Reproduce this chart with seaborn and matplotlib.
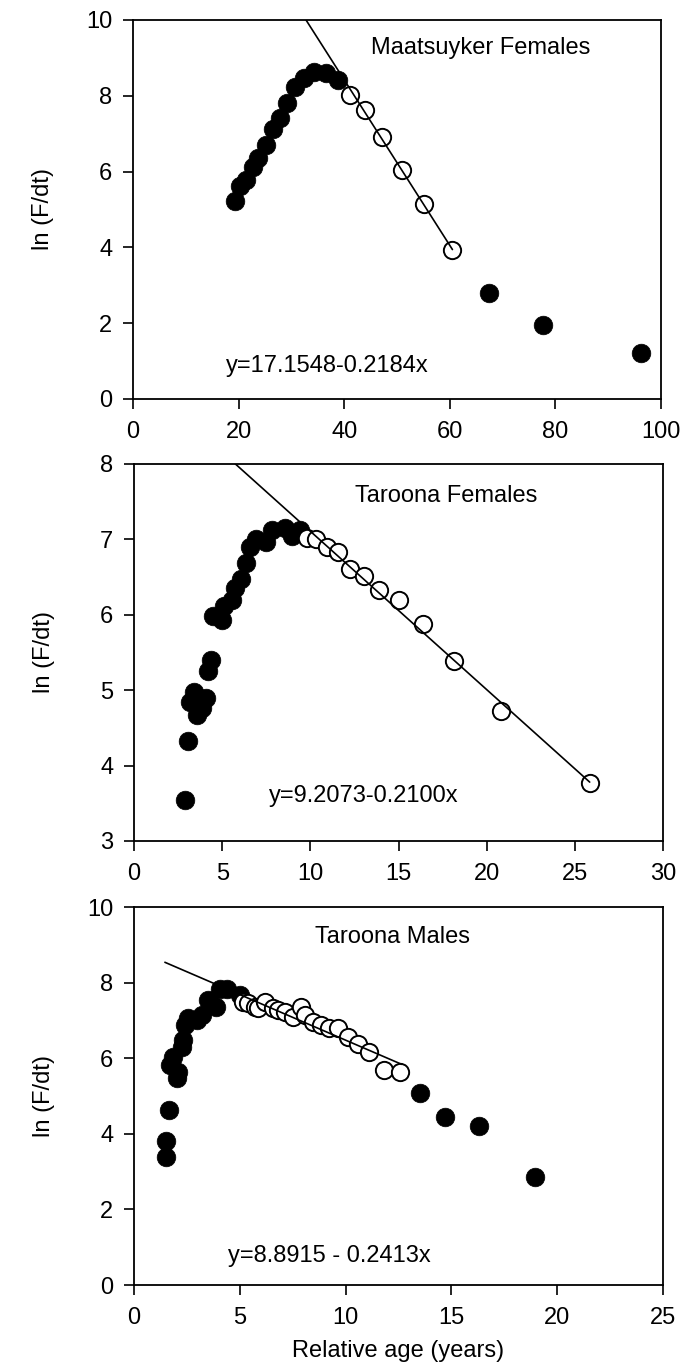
import matplotlib
matplotlib.use("Agg")
import matplotlib.pyplot as plt
import pandas as pd
import seaborn as sns

# ---------------------------------------------------------------
# data
# ---------------------------------------------------------------
# Maatsuyker females
maat_fill_x = [19.4, 20.3, 21.4, 22.7, 23.7, 25.1, 26.5, 27.8, 29.2, 30.7,
               32.4, 34.3, 36.6, 38.8, 67.5, 77.6, 96.2]
maat_fill_y = [5.23, 5.62, 5.78, 6.13, 6.35, 6.71, 7.12, 7.41, 7.82, 8.23,
               8.47, 8.62, 8.60, 8.42, 2.80, 1.95, 1.22]
maat_open_x = [41.1, 44.0, 47.2, 50.9, 55.1, 60.5]
maat_open_y = [8.03, 7.63, 6.91, 6.03, 5.15, 3.93]
maat_coef = [17.1548, -0.2184]
maat_fit_x = [32.76, 60.5]

# Taroona females
tfem_fill_x = [2.89, 3.05, 3.18, 3.42, 3.56, 3.84, 4.09, 4.22, 4.35, 4.50,
               4.97, 5.11, 5.54, 5.73, 6.07, 6.36, 6.58, 6.92, 7.49, 7.81,
               8.57, 8.98, 9.42]
tfem_fill_y = [3.55, 4.32, 4.84, 4.98, 4.67, 4.76, 4.90, 5.26, 5.40, 5.98,
               5.93, 6.11, 6.20, 6.36, 6.47, 6.69, 6.90, 7.01, 6.97, 7.13,
               7.15, 7.04, 7.13]
tfem_open_x = [9.80, 10.33, 10.94, 11.54, 12.26, 13.02, 13.87, 15.0, 16.4,
               18.16, 20.81, 25.84]
tfem_open_y = [7.02, 7.00, 6.90, 6.83, 6.61, 6.52, 6.33, 6.19, 5.88,
               5.39, 4.72, 3.77]
tfem_coef = [9.2073, -0.2100]
tfem_fit_x = [5.75, 25.84]

# Taroona males
tmal_fill_x = [1.51, 1.51, 1.65, 1.70, 1.83, 2.02, 2.09, 2.25, 2.30, 2.41,
               2.57, 2.96, 3.20, 3.51, 3.87, 4.06, 4.38, 5.0,
               13.51, 14.69, 16.31, 18.95]
tmal_fill_y = [3.39, 3.82, 4.63, 5.82, 6.04, 5.47, 5.64, 6.30, 6.48, 6.88,
               7.06, 7.01, 7.14, 7.54, 7.36, 7.82, 7.82, 7.67,
               5.09, 4.45, 4.21, 2.87]
tmal_open_x = [5.16, 5.40, 5.72, 5.87, 6.19, 6.58, 6.82, 7.13, 7.53, 7.87,
               8.08, 8.44, 8.82, 9.23, 9.65, 10.12, 10.60, 11.12, 11.81, 12.57]
tmal_open_y = [7.49, 7.45, 7.36, 7.32, 7.49, 7.32, 7.28, 7.23, 7.10, 7.36,
               7.14, 6.97, 6.88, 6.79, 6.79, 6.55, 6.38, 6.17, 5.69, 5.64]
tmal_coef = [8.8915, -0.2413]
tmal_fit_x = [1.46, 12.65]

panel_titles = ["Maatsuyker Females", "Taroona Females", "Taroona Males"]
equations = ["y=17.1548-0.2184x", "y=9.2073-0.2100x", "y=8.8915 - 0.2413x"]
x_ticks = [[0, 20, 40, 60, 80, 100], [0, 5, 10, 15, 20, 25, 30], [0, 5, 10, 15, 20, 25]]
y_ticks = [[0, 2, 4, 6, 8, 10], [3, 4, 5, 6, 7, 8], [0, 2, 4, 6, 8, 10]]

# ---------------------------------------------------------------
# style
# ---------------------------------------------------------------
sns.set_style("ticks")
plt.rcParams["font.family"] = ["Liberation Sans", "DejaVu Sans"]
plt.rcParams["text.color"] = "black"
plt.rcParams["axes.labelcolor"] = "black"
FS = 17

fig = plt.figure(figsize=(6.82, 13.63), dpi=100)

# axes boxes in figure fractions (left, bottom, width, height)
boxes = [
    [0.1950, 0.7073, 0.7742, 0.2781],
    [0.1965, 0.3830, 0.7757, 0.2766],
    [0.1965, 0.0572, 0.7757, 0.2773],
]
title_pos = [(0.658, 0.926), (0.591, 0.916), (0.489, 0.921)]
eq_pos = [(0.369, 0.088), (0.435, 0.120), (0.369, 0.077)]

panels = [
    (maat_fill_x, maat_fill_y, maat_open_x, maat_open_y, maat_coef, maat_fit_x),
    (tfem_fill_x, tfem_fill_y, tfem_open_x, tfem_open_y, tfem_coef, tfem_fit_x),
    (tmal_fill_x, tmal_fill_y, tmal_open_x, tmal_open_y, tmal_coef, tmal_fit_x),
]

for i, (fx, fy, ox, oy, coef, fit_x) in enumerate(panels):
    ax = fig.add_axes(boxes[i])

    filled = pd.DataFrame({"age": fx, "lnF": fy})
    opened = pd.DataFrame({"age": ox, "lnF": oy})
    fit = pd.DataFrame({"age": fit_x})
    fit["lnF"] = coef[0] + coef[1] * fit["age"]

    sns.scatterplot(data=filled, x="age", y="lnF", ax=ax, s=180,
                    color="black", edgecolor="black", linewidth=0.5, zorder=3)
    sns.scatterplot(data=opened, x="age", y="lnF", ax=ax, s=155,
                    facecolor="white", edgecolor="black", linewidth=1.4, zorder=4)
    sns.lineplot(data=fit, x="age", y="lnF", ax=ax, sort=False, estimator=None,
                 color="black", linewidth=1.2, zorder=5)

    xt, yt = x_ticks[i], y_ticks[i]
    ax.set_xlim(xt[0], xt[-1])
    ax.set_ylim(yt[0], yt[-1])
    ax.set_xticks(xt)
    ax.set_yticks(yt)
    ax.tick_params(direction="out", length=7, width=1.2, labelsize=FS,
                   colors="black")
    ax.tick_params(axis="x", pad=9)
    ax.tick_params(axis="y", pad=8)
    for sp in ax.spines.values():
        sp.set_visible(True)
        sp.set_linewidth(1.3)
        sp.set_color("black")

    ax.set_ylabel("ln (F/dt)", fontsize=FS)
    ax.yaxis.set_label_coords(-0.15, 0.5)
    if i == 2:
        ax.set_xlabel("Relative age (years)", fontsize=FS)
        ax.xaxis.set_label_coords(0.5, -0.145)
    else:
        ax.set_xlabel("")

    ax.text(*title_pos[i], panel_titles[i], transform=ax.transAxes,
            ha="center", va="center", fontsize=FS)
    ax.text(*eq_pos[i], equations[i], transform=ax.transAxes,
            ha="center", va="center", fontsize=FS)

fig.savefig("out.png", dpi=100)
